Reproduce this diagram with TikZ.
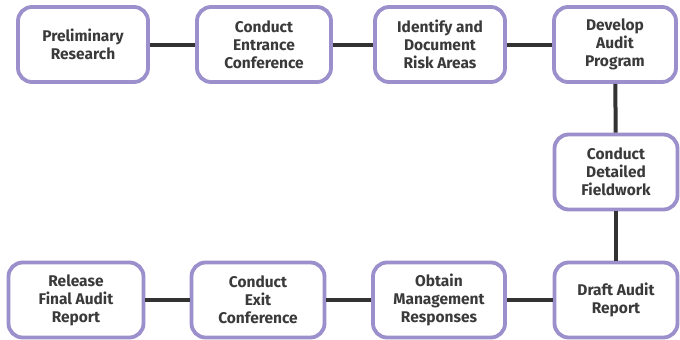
\documentclass[tikz,border=0pt]{standalone}
\usepackage{fontspec}
\setmainfont{Fira Sans}
\definecolor{boxborder}{HTML}{9B8FCC}
\definecolor{txt}{HTML}{3A3A3A}
\definecolor{conn}{HTML}{333333}
\begin{document}
\begin{tikzpicture}[x=1pt,y=-1pt,
  stepbox/.style={draw=boxborder, fill=white, line width=3.8pt, rounded corners=14pt,
    minimum height=75pt, inner sep=2pt, align=center, text=txt,
    font=\fontsize{15.5}{18}\selectfont\bfseries},
  link/.style={draw=conn, line width=4pt}]
\useasboundingbox (0,0) rectangle (680,340);
\node[stepbox, minimum width=130pt] (b1) at (83,44.5) {Preliminary\\Research};
\node[stepbox, minimum width=134pt] (b2) at (264,44.5) {Conduct\\Entrance\\Conference};
\node[stepbox, minimum width=130pt] (b3) at (440,44.5) {Identify and\\Document\\Risk Areas};
\node[stepbox, minimum width=122pt] (b4) at (615,44.5) {Develop\\Audit\\Program};
\node[stepbox, minimum width=123pt] (b5) at (616,172) {Conduct\\Detailed\\Fieldwork};
\node[stepbox, minimum width=123pt] (b6) at (616,300) {Draft Audit\\Report};
\node[stepbox, minimum width=132pt] (b7) at (439,300) {Obtain\\Management\\Responses};
\node[stepbox, minimum width=133pt] (b8) at (258,300) {Conduct\\Exit\\Conference};
\node[stepbox, minimum width=135pt] (b9) at (76,300) {Release\\Final Audit\\Report};
\draw[link] (b1) -- (b2);
\draw[link] (b2) -- (b3);
\draw[link] (b3) -- (b4);
\draw[link] (b4) -- (b5);
\draw[link] (b5) -- (b6);
\draw[link] (b6) -- (b7);
\draw[link] (b7) -- (b8);
\draw[link] (b8) -- (b9);
\end{tikzpicture}
\end{document}
